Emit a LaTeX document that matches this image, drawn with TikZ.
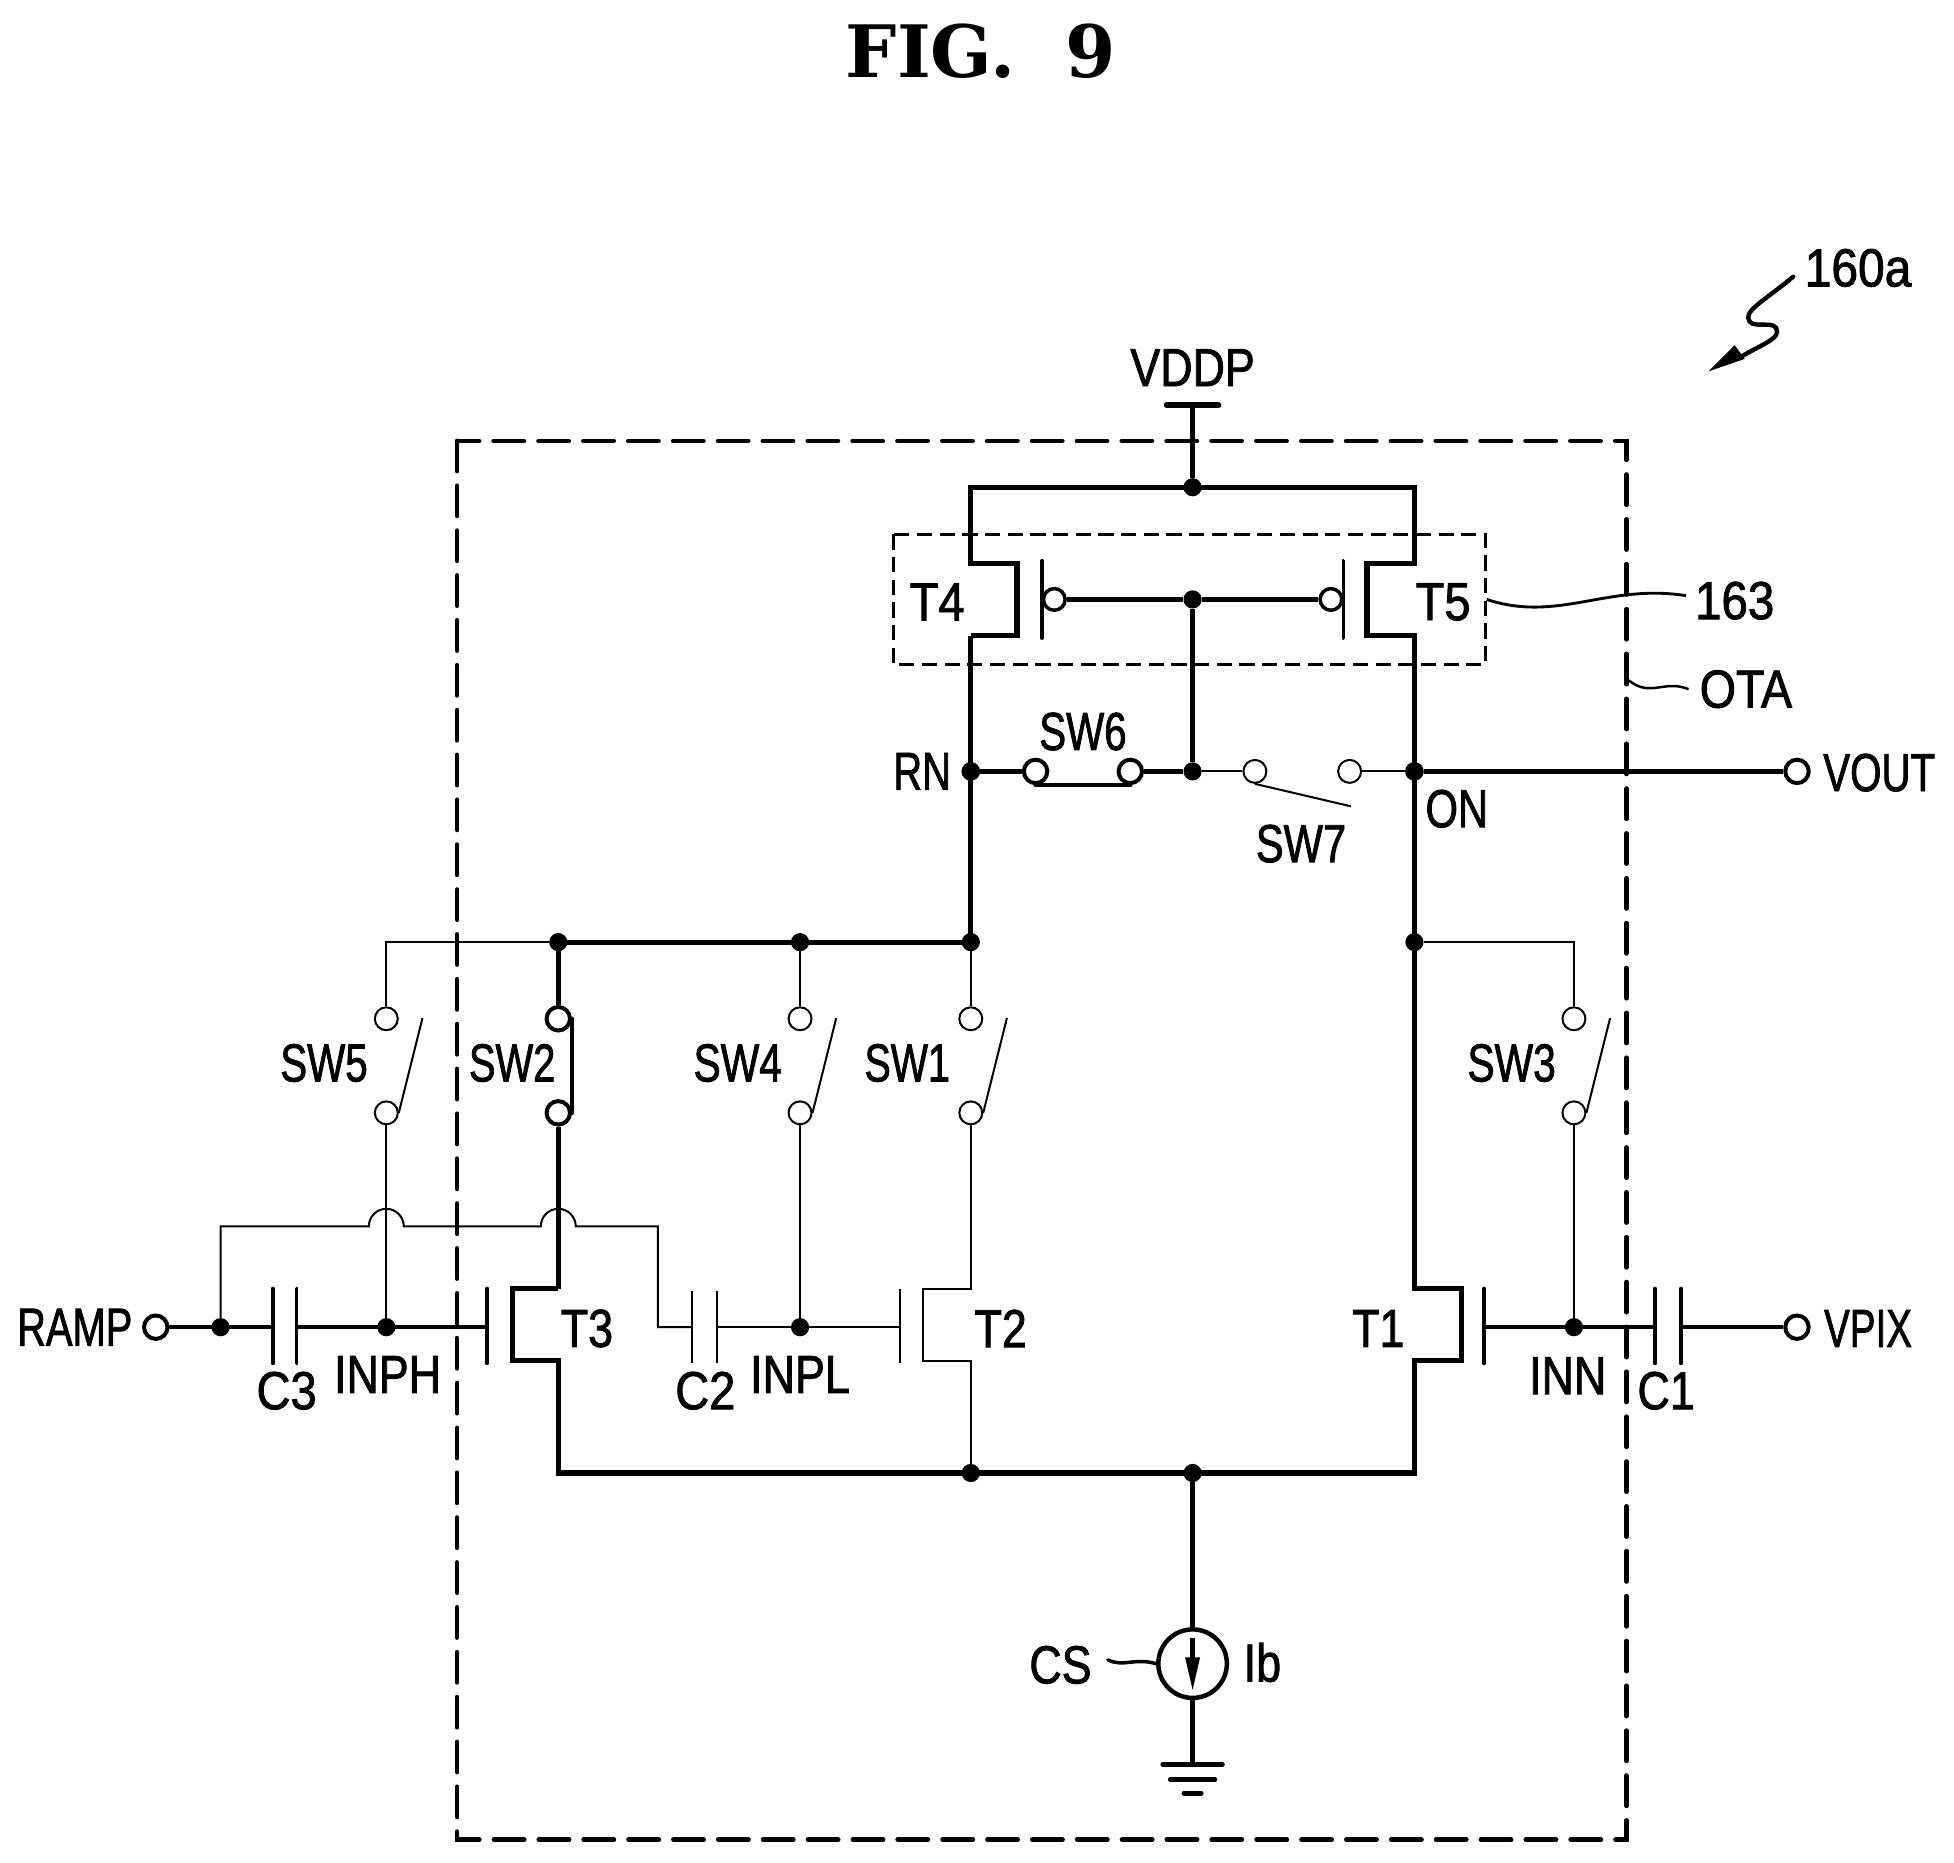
\documentclass[tikz,border=0pt]{standalone}
\usepackage{graphicx}
\usepackage{fontspec}
\setmainfont[FakeStretch=0.836,FakeBold=1.5]{Liberation Sans}
\newfontfamily\titlefont{DejaVu Serif}
\newcommand{\sx}[2]{\scalebox{#1}[1]{#2}}
\tikzset{
  x=1pt,y=-1pt,
  wire/.style={line width=4.2pt,line join=miter},
  midwire/.style={line width=3.6pt},
  gateline/.style={line width=3pt,line cap=round},
  thinwire/.style={line width=1.6pt},
  dot/.style={circle,fill=black,inner sep=0pt,minimum size=14.6pt},
  termthick/.style={circle,draw=black,line width=3.2pt,fill=white,inner sep=0pt,minimum size=18.8pt},
  termthin/.style={circle,draw=black,line width=1.6pt,fill=white,inner sep=0pt,minimum size=18.4pt},
  bubble/.style={circle,draw=black,line width=2.8pt,fill=white,inner sep=0pt,minimum size=17.4pt},
  lbl/.style={inner sep=0pt,font=\fontsize{43}{50}\selectfont},
  outerbox/.style={line width=3.8pt,dash pattern=on 24.2pt off 11.8pt,line cap=round},
  innerbox/.style={line width=2pt,dash pattern=on 12.2pt off 6pt},
}
\begin{document}
\begin{tikzpicture}
\useasboundingbox (0,0) rectangle (1568,1494.9);
% boxes
\node[inner sep=0pt,minimum width=938pt,minimum height=1122pt] (ota) at (836,915) {};
\draw[outerbox] (ota.north west) rectangle (ota.south east);
\node[inner sep=0pt,minimum width=475pt,minimum height=104pt] (box163) at (954.5,481) {};
\draw[innerbox] (box163.north west) rectangle (box163.south east);
% title
\node[inner sep=0pt,font=\titlefont\bfseries\fontsize{58}{60}\selectfont] (title) at (787,41) {FIG.\ \ 9};
% reference
\node[lbl] (r160) at (1491,215) {\sx{1.07}{160a}};
\coordinate (z0) at (1439,222);
\coordinate (z1) at (1371,298);
\draw[line width=3.5pt,line cap=round] (z0) .. controls (1415,242) and (1398,250) .. (1404,258)
  .. controls (1408,264) and (1426,256) .. (1426,266)
  .. controls (1426,273) and (1412,277) .. (1396,287);
\fill (z1) -- (1392,277) -- (1400,288) -- cycle;
% VDD
\node[lbl] (vddp) at (957,295) {VDDP};
\coordinate (vl) at (936,325); \coordinate (vr) at (978,325); \coordinate (vc) at (957,325);
\draw[line width=4.2pt,line cap=round] (vl) -- (vr);
\node[dot] (top) at (957,391) {};
\draw[midwire] (vc) -- (top);
% rails corners
\coordinate (tl) at (779,391); \coordinate (tr) at (1135,391);
\coordinate (t4a) at (779,452); \coordinate (t4b) at (816,452);
\coordinate (t4c) at (816,510); \coordinate (t4d) at (779,510);
\coordinate (t5a) at (1135,452); \coordinate (t5b) at (1097,452);
\coordinate (t5c) at (1097,510); \coordinate (t5d) at (1135,510);
\node[dot,minimum size=15pt] (rn) at (779,619) {};
\node[dot,minimum size=15pt] (on) at (1135,619) {};
\node[dot] (n756l) at (779,756) {};
\node[dot] (n756r) at (1135,756) {};
\coordinate (t1a) at (1135,1034); \coordinate (t1b) at (1173,1034);
\coordinate (t1c) at (1173,1092); \coordinate (t1d) at (1135,1092);
\coordinate (brr) at (1135,1182);
\coordinate (brl) at (448,1182);
\coordinate (t3d) at (448,1092); \coordinate (t3c) at (411,1092);
\coordinate (t3b) at (411,1034); \coordinate (t3a) at (448,1034);
\node[dot] (bm) at (957,1182) {};
\node[dot] (b2) at (779,1182) {};
\draw[wire] (t4d) -- (t4c) -- (t4b) -- (t4a) -- (tl) -- (tr) -- (t5a) -- (t5b) -- (t5c) -- (t5d) -- (on.center);
\draw[wire] (t4d) -- (rn.center) -- (n756l.center);
\draw[wire] (on.center) -- (t1a) -- (t1b) -- (t1c) -- (t1d) -- (brr) -- (brl) -- (t3d) -- (t3c) -- (t3b) -- (t3a);
% T4 T5 gates
\coordinate (g4a) at (836,450); \coordinate (g4b) at (836,512);
\coordinate (g5a) at (1078,450); \coordinate (g5b) at (1078,512);
\draw[gateline] (g4a) -- (g4b);
\draw[gateline] (g5a) -- (g5b);
\node[bubble] (b4) at (846,481) {};
\node[bubble] (b5) at (1068,481) {};
\node[dot] (gm) at (957,481) {};
\draw[midwire] (b4) -- (gm); \draw[midwire] (gm) -- (b5);
\node[lbl] (lt4) at (752,483) {\sx{1.05}{T4}};
\node[lbl] (lt5) at (1158,483) {\sx{1.05}{T5}};
% 163
\node[lbl] (l163) at (1392,482) {\sx{1.06}{163}};
\coordinate (l163s) at (1193,481);
\coordinate (l163e) at (1353,478);
\draw[line width=2.3pt] (l163s) .. controls (1250,500) and (1290,468) .. (l163e);
% OTA
\node[lbl] (lota) at (1401,553) {\sx{1.04}{OTA}};
\coordinate (lotas) at (1307,546);
\coordinate (lotae) at (1355,553);
\draw[line width=2pt] (lotas) .. controls (1325,560) and (1335,545) .. (lotae);
% SW row
\node[termthick] (s6a) at (831,619) {};
\node[termthick] (s6b) at (907,619) {};
\node[dot] (m619) at (957,619) {};
\node[termthin] (s7a) at (1007,619) {};
\node[termthin] (s7b) at (1083,619) {};
\node[termthick] (vout) at (1442,619) {};
\draw[midwire] (rn) -- (s6a);
\draw[midwire] (s6b) -- (m619);
\draw[midwire,line cap=round] (s6a.south) -- (s6b.south);
\draw[midwire] (gm) -- (m619);
\draw[thinwire] (m619) -- (s7a);
\draw[thinwire] (s7b) -- (on);
\coordinate (s7t) at (1084,647);
\draw[thinwire] (s7a.south) -- (s7t);
\draw[wire] (on) -- (vout);
\node[lbl] (lrn) at (740,619) {\sx{0.89}{RN}};
\node[lbl] (lon) at (1169,649) {\sx{0.93}{ON}};
\node[lbl] (lsw6) at (869,587) {\sx{0.9}{SW6}};
\node[lbl] (lsw7) at (1044,677) {\sx{0.93}{SW7}};
\node[lbl] (lvout) at (1508,620) {\sx{0.9}{VOUT}};
% 756 bus
\node[dot] (n448) at (448,756) {};
\node[dot] (n642) at (642,756) {};
\draw[wire] (n448.center) -- (n756l.center);
\coordinate (c310) at (310,756);
\coordinate (c1263) at (1263,756);
% switch pairs
\node[termthin] (s5a) at (310,817.5) {}; \node[termthin] (s5b) at (310,893) {};
\node[termthick] (s2a) at (448,817.5) {}; \node[termthick] (s2b) at (448,893) {};
\node[termthin] (s4a) at (642,817.5) {}; \node[termthin] (s4b) at (642,893) {};
\node[termthin] (s1a) at (779,817.5) {}; \node[termthin] (s1b) at (779,893) {};
\node[termthin] (s3a) at (1263,817.5) {}; \node[termthin] (s3b) at (1263,893) {};
\draw[thinwire] (n448) -- (c310) -- (s5a);
\draw[midwire] (n448) -- (s2a);
\draw[thinwire] (n642) -- (s4a);
\draw[thinwire] (n756l) -- (s1a);
\draw[thinwire] (n756r) -- (c1263) -- (s3a);
\draw[midwire,line cap=round] (s2a.east) -- (s2b.east);
\coordinate (b5t) at (339,817); \coordinate (b4t) at (671,817);
\coordinate (b1t) at (808,817); \coordinate (b3t) at (1292,817);
\draw[thinwire] (s5b.east) -- (b5t);
\draw[thinwire] (s4b.east) -- (b4t);
\draw[thinwire] (s1b.east) -- (b1t);
\draw[thinwire] (s3b.east) -- (b3t);
\node[lbl] (lsw5) at (260,853) {\sx{0.9}{SW5}};
\node[lbl] (lsw2) at (411,853) {\sx{0.89}{SW2}};
\node[lbl] (lsw4) at (592,853) {\sx{0.91}{SW4}};
\node[lbl] (lsw1) at (728,853) {\sx{0.88}{SW1}};
\node[lbl] (lsw3) at (1213,853) {\sx{0.91}{SW3}};
% input row
\node[termthick] (ramp) at (125,1065) {};
\node[dot] (n177) at (177,1065) {};
\node[dot] (inph) at (310,1065) {};
\node[dot] (inpl) at (642,1065) {};
\node[dot] (inn) at (1263,1065) {};
\node[termthick] (vpix) at (1442,1065) {};
\draw[thinwire] (s5b) -- (inph);
\draw[wire] (s2b) -- (t3a);
\draw[thinwire] (s4b) -- (inpl);
\draw[thinwire] (s3b) -- (inn);
% T2
\coordinate (t2a) at (779,1034); \coordinate (t2b) at (741,1034);
\coordinate (t2c) at (741,1092); \coordinate (t2d) at (779,1092);
\draw[thinwire] (s1b) -- (t2a) -- (t2b) -- (t2c) -- (t2d) -- (b2);
% C3
\coordinate (c3at) at (219,1034); \coordinate (c3ab) at (219,1094); \coordinate (c3am) at (219,1065);
\coordinate (c3bt) at (238,1034); \coordinate (c3bb) at (238,1094); \coordinate (c3bm) at (238,1065);
\draw[gateline] (c3at) -- (c3ab);
\draw[gateline] (c3bt) -- (c3bb);
\coordinate (g3t) at (391,1034); \coordinate (g3b) at (391,1094); \coordinate (g3m) at (391,1065);
\draw[gateline] (g3t) -- (g3b);
\draw[midwire] (ramp) -- (c3am);
\draw[midwire] (c3bm) -- (g3m);
% jumper
\coordinate (j0) at (177,984); \coordinate (j1) at (296,984); \coordinate (j2) at (324,984);
\coordinate (j3) at (434,984); \coordinate (j4) at (462,984); \coordinate (j5) at (528,984);
\coordinate (j6) at (528,1065); \coordinate (c2am) at (555,1065);
\draw[thinwire] (n177) -- (j0) -- (j1) arc[start angle=180,end angle=0,radius=14pt] -- (j3) arc[start angle=180,end angle=0,radius=14pt] -- (j5) -- (j6) -- (c2am);
% C2
\coordinate (c2at) at (555,1036); \coordinate (c2ab) at (555,1094);
\coordinate (c2bt) at (575,1036); \coordinate (c2bb) at (575,1094); \coordinate (c2bm) at (575,1065);
\draw[thinwire] (c2at) -- (c2ab);
\draw[thinwire] (c2bt) -- (c2bb);
\coordinate (g2t) at (722,1034); \coordinate (g2b) at (722,1094); \coordinate (g2m) at (722,1065);
\draw[thinwire] (g2t) -- (g2b);
\draw[thinwire] (c2bm) -- (g2m);
% T1 gate and C1
\coordinate (g1t) at (1191,1034); \coordinate (g1b) at (1191,1094); \coordinate (g1m) at (1191,1065);
\draw[gateline] (g1t) -- (g1b);
\coordinate (c1at) at (1328,1034); \coordinate (c1ab) at (1328,1094); \coordinate (c1am) at (1328,1065);
\coordinate (c1bt) at (1349,1034); \coordinate (c1bb) at (1349,1094); \coordinate (c1bm) at (1349,1065);
\draw[gateline] (c1at) -- (c1ab);
\draw[gateline] (c1bt) -- (c1bb);
\draw[midwire] (g1m) -- (c1am);
\draw[midwire] (c1bm) -- (vpix);
% labels
\node[lbl] (lramp) at (60,1065) {\sx{0.89}{RAMP}};
\node[lbl] (lc3) at (230,1116) {\sx{1.05}{C3}};
\node[lbl] (linph) at (311,1103) {INPH};
\node[lbl] (lt3) at (471,1066) {T3};
\node[lbl] (lc2) at (566,1116) {\sx{1.05}{C2}};
\node[lbl] (linpl) at (642,1103) {INPL};
\node[lbl] (lt2) at (803,1066) {T2};
\node[lbl] (lt1) at (1106,1066) {T1};
\node[lbl] (linn) at (1258,1104) {INN};
\node[lbl] (lc1) at (1337,1116) {C1};
\node[lbl] (lvpix) at (1499,1066) {\sx{0.86}{VPIX}};
% current source
\node[circle,draw=black,line width=3.6pt,inner sep=0pt,minimum size=55pt] (cs) at (957,1335) {};
\draw[midwire] (bm) -- (cs);
\coordinate (g1) at (957,1416);
\draw[midwire] (cs) -- (g1);
\coordinate (al) at (957,1314); \coordinate (am) at (957,1332);
\draw[midwire] (al) -- (am);
\fill (957,1356) -- (951,1330) -- (963,1330) -- cycle;
\coordinate (gl1) at (933,1416); \coordinate (gr1) at (981,1416);
\coordinate (gl2) at (939,1428); \coordinate (gr2) at (975,1428);
\coordinate (gl3) at (950,1439); \coordinate (gr3) at (964,1439);
\draw[line width=3.6pt,line cap=round] (gl1) -- (gr1);
\draw[line width=3.6pt,line cap=round] (gl2) -- (gr2);
\draw[line width=3.6pt,line cap=round] (gl3) -- (gr3);
\node[lbl] (lcs) at (851,1336) {CS};
\node[lbl] (lib) at (1013,1334) {Ib};
\coordinate (cslead) at (889,1332);
\draw[line width=2.8pt,line cap=round] (cslead) .. controls (902,1338) and (910,1330) .. (cs.west);
\end{tikzpicture}
\end{document}
